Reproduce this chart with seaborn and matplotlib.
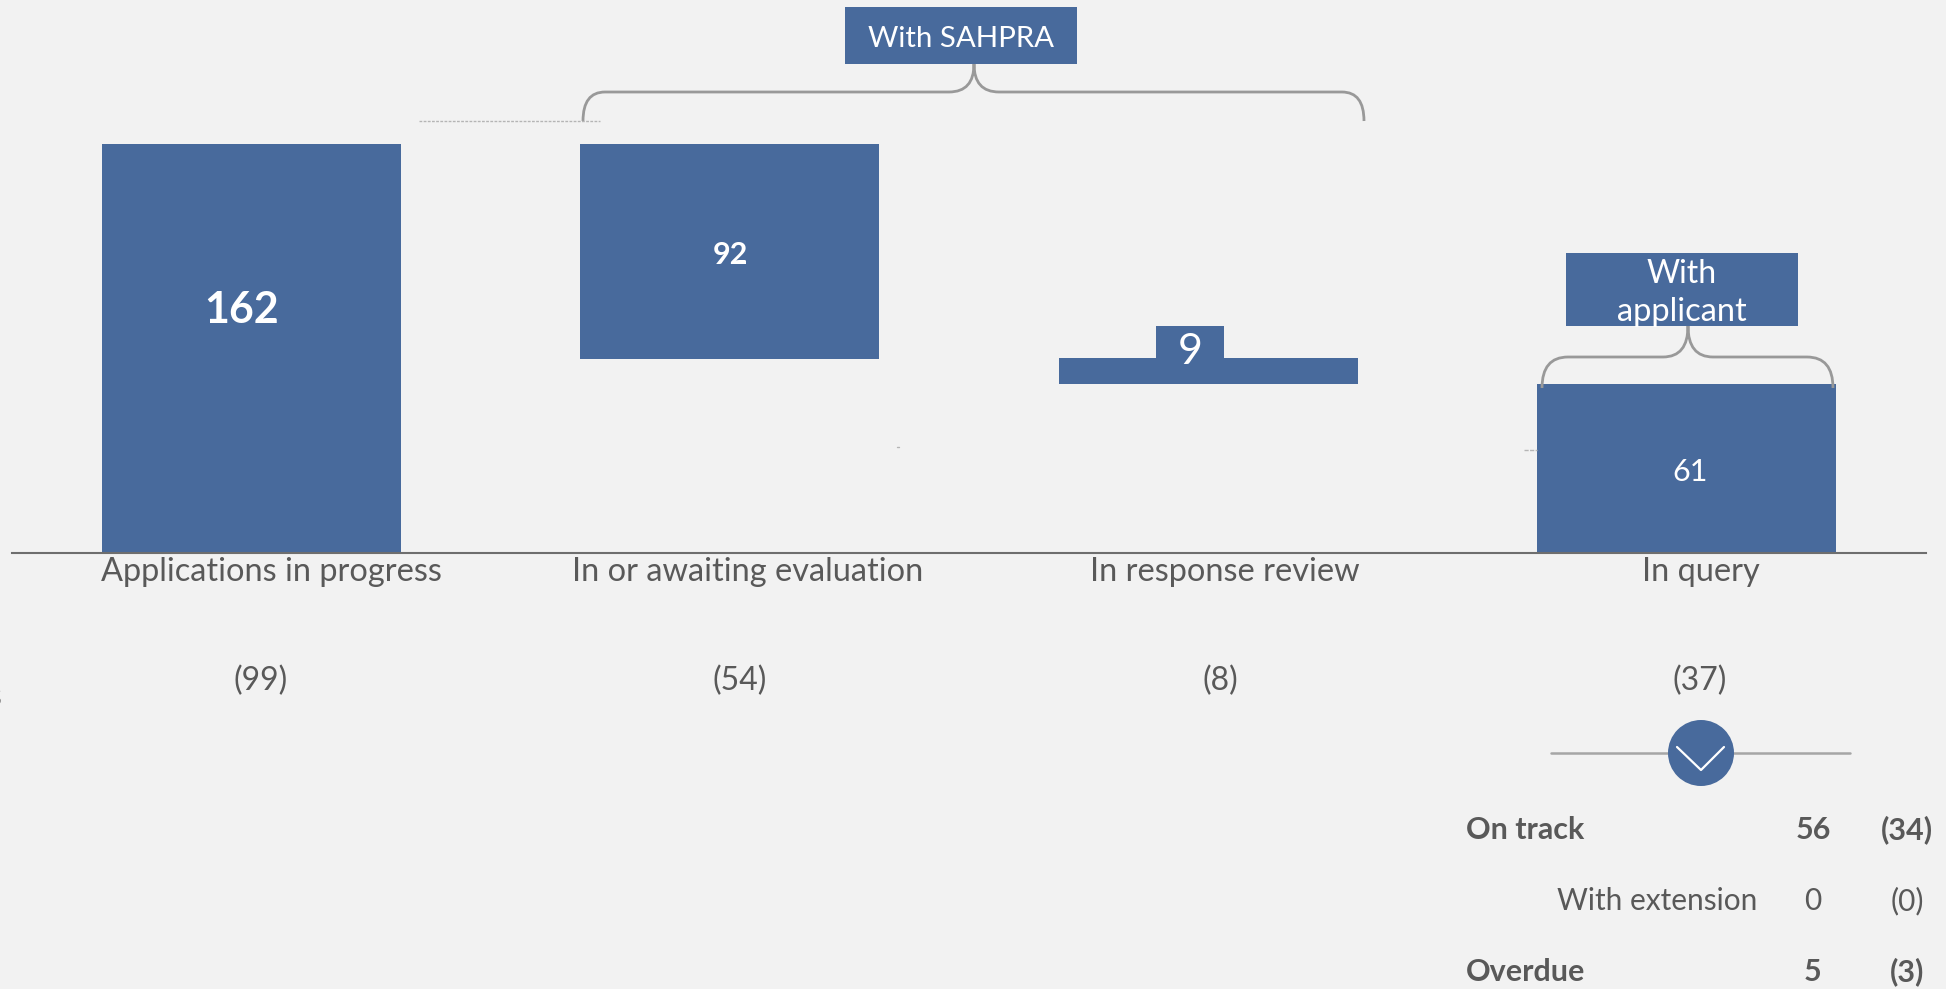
import matplotlib
matplotlib.use("Agg")
import matplotlib.pyplot as plt
import matplotlib.patches as mpatches
from matplotlib.path import Path
from matplotlib.transforms import ScaledTranslation
import pandas as pd
import seaborn as sns

# ========================================================
# Data
# ========================================================
categories = ["Applications in progress", "In or awaiting evaluation", "In response review", "In query"]
value_labels = ["162", "92", "9", "61"]
previous_labels = ["(99)", "(54)", "(8)", "(37)"]
# bar extents as drawn in the picture
bar_heights = [162, 85, 10.3, 67]
bar_bottoms = [0, 77, 66.9, 0]

table_names = ["On track", "With extension", "Overdue"]
table_values = ["56", "0", "5"]
table_previous = ["(34)", "(0)", "(3)"]

BLUE = "#486a9c"
GREY = "#595959"
BG = "#f2f2f2"
W, H = 1946, 989

sns.set_theme(style="white")
plt.rcParams["font.family"] = ["Lato", "DejaVu Sans"]

fig = plt.figure(figsize=(W / 100, H / 100), dpi=100, facecolor=BG)
ax = fig.add_axes([12 / W, (H - 553) / H, 1914 / W, 553 / H])
ax.set_facecolor(BG)

df = pd.DataFrame({"category": categories, "height": bar_heights})
sns.barplot(data=df, x="category", y="height", color=BLUE, saturation=1, width=0.625,
            bottom=bar_bottoms, linewidth=0, ax=ax)
ax.set_xlim(-0.5, 3.5)
ax.set_ylim(0, 219)
ax.set_xlabel("")
ax.set_ylabel("")
ax.set_yticks([])
sns.despine(ax=ax, left=True)
ax.spines["bottom"].set_color("#6e6e6e")
ax.spines["bottom"].set_linewidth(1.5)

# category labels sit a little right of their bars
ax.tick_params(axis="x", length=0, pad=3, labelsize=23.4, labelcolor=GREY)
for label, dx in zip(ax.get_xticklabels(), [20, 18, 17, 14]):
    label.set_transform(label.get_transform() + ScaledTranslation(dx / 100, 0, fig.dpi_scale_trans))

# ========================================================
# Overlay in pixel coordinates for the annotations
# ========================================================
ov = fig.add_axes([0, 0, 1, 1])
ov.set_xlim(0, W)
ov.set_ylim(H, 0)
ov.axis("off")


def brace(x0, x1, xm, y_end, y_mid, y_top, r):
    verts = [(x0, y_end), (x0, y_mid), (x0 + r, y_mid), (xm - 25, y_mid),
             (xm, y_mid), (xm, y_top), (xm, y_top), (xm, y_mid), (xm + 25, y_mid),
             (x1 - r, y_mid), (x1, y_mid), (x1, y_end)]
    codes = [Path.MOVETO, Path.CURVE3, Path.CURVE3, Path.LINETO,
             Path.CURVE3, Path.CURVE3, Path.MOVETO, Path.CURVE3, Path.CURVE3,
             Path.LINETO, Path.CURVE3, Path.CURVE3]
    ov.add_patch(mpatches.PathPatch(Path(verts, codes), fc="none", ec="#999999", lw=2))


def box(x0, y0, x1, y1):
    ov.add_patch(mpatches.Rectangle((x0, y0), x1 - x0, y1 - y0, fc=BLUE, ec="none", zorder=3))


brace(583, 1364, 974, 121, 92, 64, 22)
brace(1542, 1833, 1688, 388, 357, 326, 26)

box(845, 7, 1077, 64)
box(1566, 253, 1798, 326)
box(1156, 326, 1224, 358)

white = dict(color="white", ha="center", va="center", zorder=4)
ov.text(961, 39, "With SAHPRA", fontsize=21.2, **white)
ov.text(1682, 274, "With", fontsize=23, **white)
ov.text(1682, 312, "applicant", fontsize=23.5, **white)

# value labels inside the bars
ov.text(242, 310, value_labels[0], fontsize=31, fontweight="bold", **white)
ov.text(730, 255, value_labels[1], fontsize=22, fontweight="bold", **white)
ov.text(1190, 352, value_labels[2], fontsize=31, **white)
ov.text(1690, 472, value_labels[3], fontsize=22, **white)

# faint connector remnants
ov.plot([419, 600], [121, 121], color="#b5b5b5", lw=1, ls=(0, (2, 1)))
ov.plot([1524, 1537], [450, 450], color="#b5b5b5", lw=1, ls=(0, (3, 1)))
ov.plot([897, 899], [447, 447], color="#b5b5b5", lw=1)

grey = dict(color=GREY, va="center", fontsize=23)
for x, t in zip([261, 740, 1220, 1700], previous_labels):
    ov.text(x, 681, t, ha="center", **grey)
ov.text(2, 697, "s", ha="right", **grey)

# arrow divider above the table
ov.plot([1551, 1850], [753, 753], color="#a6a6a6", lw=1.8, zorder=2)
ov.add_patch(mpatches.Ellipse((1701, 753), 66, 66, fc=BLUE, ec="none", zorder=3))
ov.plot([1677, 1701, 1724], [747, 770, 747], color="white", lw=1.6, zorder=4)

# table
rows_y = [830, 901, 972]
for i, y in enumerate(rows_y):
    weight = "normal" if i == 1 else "bold"
    size = 21.5 if i == 1 else 22
    style = dict(color=GREY, va="center", fontsize=size, fontweight=weight)
    if i == 1:
        ov.text(1757, y, table_names[i], ha="right", **style)
    else:
        ov.text(1466, y, table_names[i], ha="left", **style)
    ov.text(1813, y, table_values[i], ha="center", **style)
    ov.text(1907, y, table_previous[i], ha="center", **style)

fig.savefig("out.png", dpi=100, facecolor=BG)
